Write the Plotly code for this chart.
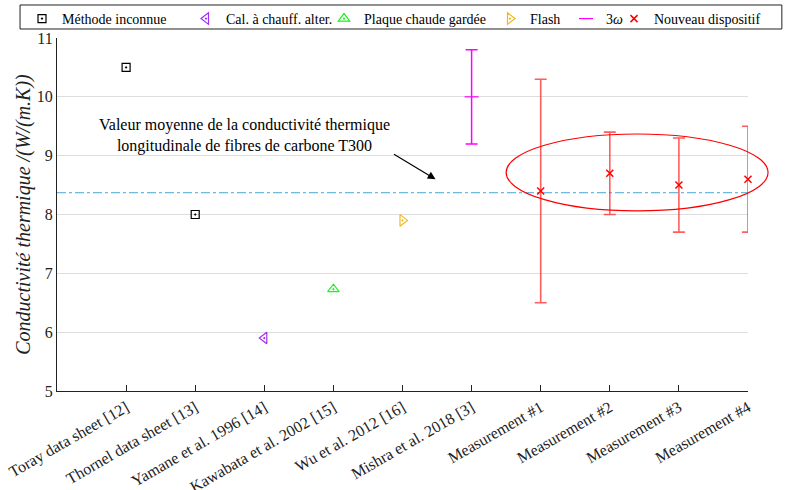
import plotly.graph_objects as go

categories = ["Toray data sheet [12]", "Thornel data sheet [13]", "Yamane et al. 1996 [14]",
              "Kawabata et al. 2002 [15]", "Wu et al. 2012 [16]", "Mishra et al. 2018 [3]",
              "Measurement #1", "Measurement #2", "Measurement #3", "Measurement #4"]

unknown_x = ["Toray data sheet [12]", "Thornel data sheet [13]"]
unknown_y = [10.5, 8.0]
ac_x = ["Yamane et al. 1996 [14]"]
ac_y = [5.9]
hot_x = ["Kawabata et al. 2002 [15]"]
hot_y = [6.73]
flash_x = ["Wu et al. 2012 [16]"]
flash_y = [7.9]
omega_x = ["Mishra et al. 2018 [3]"]
omega_y = [10.0]
omega_err = [0.8]
new_x = ["Measurement #1", "Measurement #2", "Measurement #3", "Measurement #4"]
new_y = [8.4, 8.7, 8.5, 8.6]
new_err_plus = [1.9, 0.7, 0.8, 0.9]
new_err_minus = [1.9, 0.7, 0.8, 0.9]
mean_value = 8.37

FONT = "Liberation Serif"
W, H = 786, 490

fig = go.Figure()

fig.add_shape(type="line", xref="paper", yref="y", x0=0, x1=1, y0=mean_value, y1=mean_value,
              line=dict(color="#4aa6dc", width=1, dash="dashdot"), layer="below")

fig.add_trace(go.Scatter(x=unknown_x, y=unknown_y, mode="markers", name="Méthode inconnue",
                         cliponaxis=False, legend="legend", showlegend=True,
                         marker=dict(symbol="square-open-dot", size=8, color="black", line=dict(width=1.2))))
fig.add_trace(go.Scatter(x=ac_x, y=ac_y, mode="markers", name="Cal. à chauff. alter.",
                         cliponaxis=False, legend="legend2",
                         marker=dict(symbol="triangle-left-open-dot", size=10, color="#a030f0", line=dict(width=1.2))))
fig.add_trace(go.Scatter(x=hot_x, y=hot_y, mode="markers", name="Plaque chaude gardée",
                         cliponaxis=False, legend="legend3",
                         marker=dict(symbol="triangle-up-open-dot", size=10, color="#22ee22", line=dict(width=1.2))))
fig.add_trace(go.Scatter(x=flash_x, y=flash_y, mode="markers", name="Flash",
                         cliponaxis=False, legend="legend4",
                         marker=dict(symbol="triangle-right-open-dot", size=10, color="#f0b820", line=dict(width=1.2))))
fig.add_trace(go.Scatter(x=omega_x, y=omega_y, mode="markers", name="3<i>ω</i>",
                         cliponaxis=False, legend="legend5",
                         marker=dict(symbol="line-ew-open", size=10, color="#ff00ff", line=dict(width=1.2, color="#ff00ff")),
                         error_y=dict(type="data", array=omega_err, color="#ff00ff", thickness=1.5, width=6)))
fig.add_trace(go.Scatter(x=new_x, y=new_y, mode="markers", name="Nouveau dispositif",
                         cliponaxis=False, legend="legend6",
                         marker=dict(symbol="x-thin-open", size=7, color="red", line=dict(width=1.5, color="red")),
                         error_y=dict(type="data", array=new_err_plus, arrayminus=new_err_minus,
                                      color="rgba(255,40,40,0.75)", thickness=1.6, width=6)))

fig.add_shape(type="circle", xref="paper", yref="paper", x0=0.65, x1=1.029, y0=0.51, y1=0.728,
              line=dict(color="red", width=1.2))

# legend frame
fig.add_shape(type="rect", xref="paper", yref="paper", x0=-0.0535, x1=1.049, y0=1.0255, y1=1.0935,
              line=dict(color="#222", width=1), layer="above")

fig.add_annotation(x=1.72, y=9.35, xref="x", yref="y", showarrow=False,
                   text="Valeur moyenne de la conductivité thermique<br>longitudinale de fibres de carbone T300",
                   font=dict(family=FONT, size=16, color="black"), align="center")
fig.add_annotation(x=4.478, y=8.60, ax=3.855, ay=9.04, xref="x", yref="y", axref="x", ayref="y",
                   showarrow=True, arrowhead=2, arrowsize=1.3, arrowwidth=1.2, arrowcolor="black", text="")

text_left = [63, 227, 365, 531, 607, 655]
legends = {}
for i, tx in enumerate(text_left):
    key = "legend" if i == 0 else f"legend{i + 1}"
    legends[key] = dict(orientation="h", x=(tx - 41) / W, xanchor="left", y=1 - 3 / H, yanchor="top",
                        xref="container", yref="container", borderwidth=0, bgcolor="rgba(0,0,0,0)",
                        font=dict(family=FONT, size=14, color="black"), itemwidth=30)

fig.update_layout(
    width=W, height=H,
    showlegend=True,
    margin=dict(l=57, r=38, t=38, b=99, autoexpand=False),
    plot_bgcolor="white", paper_bgcolor="white",
    font=dict(family=FONT, size=14, color="#222"),
    xaxis=dict(type="category", categoryorder="array", categoryarray=categories, automargin=False,
               range=[-1, 9], tickangle=-30, ticks="inside", ticklen=6, tickcolor="#222",
               showline=True, linecolor="#222", linewidth=1.2, showgrid=False,
               tickfont=dict(family=FONT, size=16, color="#222")),
    yaxis=dict(range=[5, 11], dtick=1, showline=True, linecolor="#222", linewidth=1.2, automargin=False,
               showgrid=True, gridcolor="#dddddd", gridwidth=1, zeroline=False,
               ticks="", tickfont=dict(family=FONT, size=16, color="#222"),
               title=dict(text="<i>Conductivité thermique /(W/(m.K))</i>",
                          font=dict(family=FONT, size=20, color="#222"), standoff=0)),
    **legends,
)

fig.write_html("out.html", post_script="document.body.style.margin='0';",
               config={"displayModeBar": False})
